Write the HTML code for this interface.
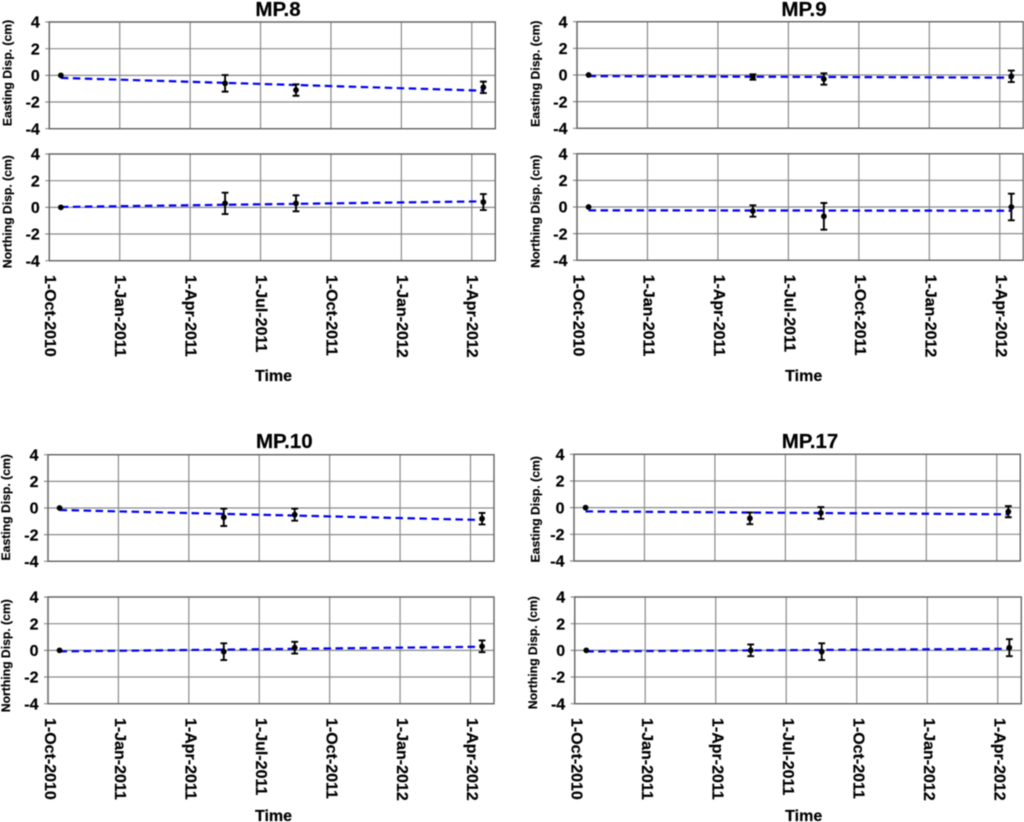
<!DOCTYPE html>
<html lang="en">
<head>
<meta charset="utf-8">
<title>Displacement time series</title>
<style>
html,body{margin:0;padding:0;background:#fff;width:1024px;height:822px;overflow:hidden}
svg{display:block;filter:blur(0.45px)}
text{font-family:"Liberation Sans",Arial,sans-serif;font-weight:bold;fill:#000;stroke:#000;stroke-width:0.2px}
</style>
</head>
<body>
<svg id="figure" xmlns="http://www.w3.org/2000/svg" width="1024" height="822" viewBox="0 0 1024 822"></svg>
<script>
// Shared axis data
const xTickLabels = ['1-Oct-2010','1-Jan-2011','1-Apr-2011','1-Jul-2011','1-Oct-2011','1-Jan-2012','1-Apr-2012'];
const xTickDays = [0,91.33,182.67,274,365.33,456.67,548];
const yTicks = [4,2,0,-2,-4];
const xMaxDays = 578.5;
const surveyDays = [15,228,320,563];

// MP.8
const mp8EastValues = [0,-0.6,-1.1,-0.9];
const mp8EastErrors = [0,0.62,0.43,0.43];
const mp8EastTrend = [-0.19,-1.15];
const mp8NorthValues = [0,0.3,0.3,0.4];
const mp8NorthErrors = [0,0.8,0.6,0.6];
const mp8NorthTrend = [0.03,0.45];

// MP.9
const mp9EastValues = [0,-0.15,-0.3,-0.1];
const mp9EastErrors = [0,0.2,0.43,0.43];
const mp9EastTrend = [-0.08,-0.2];
const mp9NorthValues = [0,-0.3,-0.7,0];
const mp9NorthErrors = [0,0.43,1,1];
const mp9NorthTrend = [-0.25,-0.28];

// MP.10
const mp10EastValues = [0,-0.7,-0.5,-0.8];
const mp10EastErrors = [0,0.65,0.45,0.43];
const mp10EastTrend = [-0.15,-0.9];
const mp10NorthValues = [0,-0.1,0.2,0.3];
const mp10NorthErrors = [0,0.63,0.44,0.44];
const mp10NorthTrend = [-0.08,0.27];

// MP.17
const mp17EastValues = [0,-0.8,-0.4,-0.3];
const mp17EastErrors = [0,0.44,0.44,0.42];
const mp17EastTrend = [-0.28,-0.5];
const mp17NorthValues = [0,0,-0.1,0.2];
const mp17NorthErrors = [0,0.44,0.63,0.64];
const mp17NorthTrend = [-0.08,0.12];

const NS = 'http://www.w3.org/2000/svg';
const root = document.getElementById('figure');

function make(parent, tag, attrs, content) {
  const el = document.createElementNS(NS, tag);
  for (const k in attrs) el.setAttribute(k, attrs[k]);
  if (content !== undefined) el.textContent = content;
  parent.appendChild(el);
  return el;
}

function drawPane(chartId, paneId, yLabel, box, values, errors, trend) {
  const x = d => box.l + d / xMaxDays * (box.r - box.l);
  const y = v => box.t + (4 - v) / 8 * (box.b - box.t);

  const pane = make(root, 'g', {});
  
  

  yTicks.forEach(t => {
    const grid = make(pane, 'line', {x1: box.l - 4, x2: box.r, y1: y(t), y2: y(t), stroke: '#8a8a8a', 'stroke-width': 1.2});
    
    
    const label = make(pane, 'text', {x: box.l - 9.5, y: y(t) + 5.7, 'text-anchor': 'end', 'font-size': 16}, String(t));
    
    
  });

  xTickDays.forEach(d => {
    const grid = make(pane, 'line', {x1: x(d), x2: x(d), y1: box.t, y2: box.b, stroke: '#8a8a8a', 'stroke-width': 1.2});
    
    
  });

  const frame = make(pane, 'rect', {x: box.l, y: box.t, width: box.r - box.l, height: box.b - box.t, fill: 'none', stroke: '#666', 'stroke-width': 1.4});
  
  

  const title = make(pane, 'text', {transform: 'translate(' + box.yx + ',' + box.yc + ') rotate(-90)', 'text-anchor': 'middle', 'font-size': 12.2}, yLabel);
  
  

  const first = surveyDays[0];
  const last = surveyDays[surveyDays.length - 1];
  const line = make(pane, 'line', {x1: x(first), y1: y(trend[0]), x2: x(last), y2: y(trend[1]), stroke: '#0000f0', 'stroke-width': 2.2, 'stroke-dasharray': '7.5 4.5'});
  
  

  surveyDays.forEach((d, i) => {
    if (errors[i] > 0) {
      const hi = y(values[i] + errors[i]);
      const lo = y(values[i] - errors[i]);
      const bar = make(pane, 'path', {
        d: 'M' + (x(d) - 3.4) + ' ' + hi + 'H' + (x(d) + 3.4) + 'M' + x(d) + ' ' + hi + 'V' + lo + 'M' + (x(d) - 3.4) + ' ' + lo + 'H' + (x(d) + 3.4),
        fill: 'none', stroke: '#000', 'stroke-width': 1.9
      });
      
      
    }
    const pt = make(pane, 'circle', {cx: x(d), cy: y(values[i]), r: 2.9, fill: '#000'});
    
    
  });
}

function drawChart(chartId, name, titleX, titleY, timeX, timeY, labelShift, east, north) {
  const heading = make(root, 'text', {x: titleX, y: titleY, 'text-anchor': 'middle', 'font-size': 20.5}, name);
  
  

  drawPane(chartId, 'easting', 'Easting Disp. (cm)', east.box, east.values, east.errors, east.trend);
  drawPane(chartId, 'northing', 'Northing Disp. (cm)', north.box, north.values, north.errors, north.trend);

  const b = north.box;
  xTickDays.forEach((d, i) => {
    const px = b.l + d / xMaxDays * (b.r - b.l);
    const lab = make(root, 'text', {transform: 'translate(' + (px - 5.75 + labelShift) + ',' + (b.b + 14.3) + ') rotate(90)', 'font-size': 16}, xTickLabels[i]);
    
    
  });

  const time = make(root, 'text', {x: timeX, y: timeY, 'text-anchor': 'middle', 'font-size': 16}, 'Time');
  
  
}

drawChart('mp8', 'MP.8', 278, 16, 273.5, 381, 1.2,
  {box: {l: 49.3, r: 495.3, t: 22, b: 128.7, yx: 11.3, yc: 73}, values: mp8EastValues, errors: mp8EastErrors, trend: mp8EastTrend},
  {box: {l: 49.3, r: 495.3, t: 154, b: 260.7, yx: 11.3, yc: 211.7}, values: mp8NorthValues, errors: mp8NorthErrors, trend: mp8NorthTrend});

drawChart('mp9', 'MP.9', 804, 16, 803.7, 381, 2,
  {box: {l: 577, r: 1023.3, t: 21.7, b: 128.3, yx: 539.3, yc: 73.7}, values: mp9EastValues, errors: mp9EastErrors, trend: mp9EastTrend},
  {box: {l: 577, r: 1023.3, t: 153.7, b: 260.3, yx: 539.3, yc: 211.3}, values: mp9NorthValues, errors: mp9NorthErrors, trend: mp9NorthTrend});

drawChart('mp10', 'MP.10', 284.3, 448, 273.5, 821, 2.5,
  {box: {l: 48, r: 494, t: 454.7, b: 561.3, yx: 10, yc: 507.3}, values: mp10EastValues, errors: mp10EastErrors, trend: mp10EastTrend},
  {box: {l: 48, r: 494, t: 597, b: 703.7, yx: 10, yc: 655.7}, values: mp10NorthValues, errors: mp10NorthErrors, trend: mp10NorthTrend});

drawChart('mp17', 'MP.17', 810, 448, 803.7, 821, 2.3,
  {box: {l: 574, r: 1020.3, t: 454.3, b: 561, yx: 539.3, yc: 509.3}, values: mp17EastValues, errors: mp17EastErrors, trend: mp17EastTrend},
  {box: {l: 574.7, r: 1021.3, t: 597, b: 703.7, yx: 536.8, yc: 652.7}, values: mp17NorthValues, errors: mp17NorthErrors, trend: mp17NorthTrend});
</script>
</body>
</html>
